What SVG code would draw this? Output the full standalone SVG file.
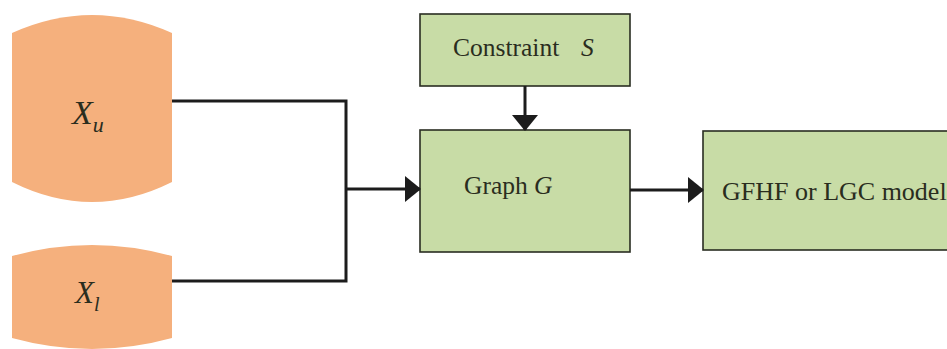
<svg xmlns="http://www.w3.org/2000/svg" width="947" height="349" viewBox="0 0 947 349">
  <style>
    .data { fill: #F5B07D; stroke: none; }
    .box { fill: #C8DCA6; stroke: #2a2d22; stroke-width: 1.6; }
    .lbl { font-family: 'Liberation Serif', 'DejaVu Serif', serif; fill: #2a2d1e; }
    .var { font-style: italic; }
    .wire { fill: none; stroke: #1c1c1c; stroke-width: 3; }
  </style>
  <defs>
    <marker id="arrow" markerWidth="16" markerHeight="26" refX="15" refY="13" orient="auto" markerUnits="userSpaceOnUse">
      <path d="M0,0 L16,13 L0,26 Z" fill="#1c1c1c"/>
    </marker>
  </defs>
  <rect width="947" height="349" fill="#ffffff"/>

  <!-- input data sets -->
  <g id="node-xu">
    <path class="data" d="M12,33 Q92,-3 172,33 L172,182 Q92,222 12,182 Z"/>
    <text class="lbl var" x="72" y="124" font-size="34">X<tspan font-size="22" dy="8">u</tspan></text>
  </g>
  <g id="node-xl">
    <path class="data" d="M12,256 Q92,234 172,256 L172,338 Q92,360 12,338 Z"/>
    <text class="lbl var" x="75" y="303" font-size="31">X<tspan font-size="20" dy="8">l</tspan></text>
  </g>

  <!-- processing blocks -->
  <g id="node-constraint">
    <rect class="box" x="420" y="14" width="210" height="72"/>
    <text class="lbl" x="453" y="56" font-size="25.5">Constraint <tspan class="var" x="581">S</tspan></text>
  </g>
  <g id="node-graph">
    <rect class="box" x="420" y="130" width="210" height="122"/>
    <text class="lbl" x="464" y="194" font-size="25.5">Graph <tspan class="var">G</tspan></text>
  </g>
  <g id="node-model">
    <rect class="box" x="703" y="131" width="250" height="119"/>
    <text class="lbl" x="722" y="200" font-size="26">GFHF or LGC model</text>
  </g>

  <!-- connectors -->
  <g id="connectors">
    <path class="wire" d="M172,101 H346 V281 H172"/>
    <path class="wire" d="M346,189 H420" marker-end="url(#arrow)"/>
    <path class="wire" d="M525,86 V130" marker-end="url(#arrow)"/>
    <path class="wire" d="M630,190 H703" marker-end="url(#arrow)"/>
  </g>
</svg>
